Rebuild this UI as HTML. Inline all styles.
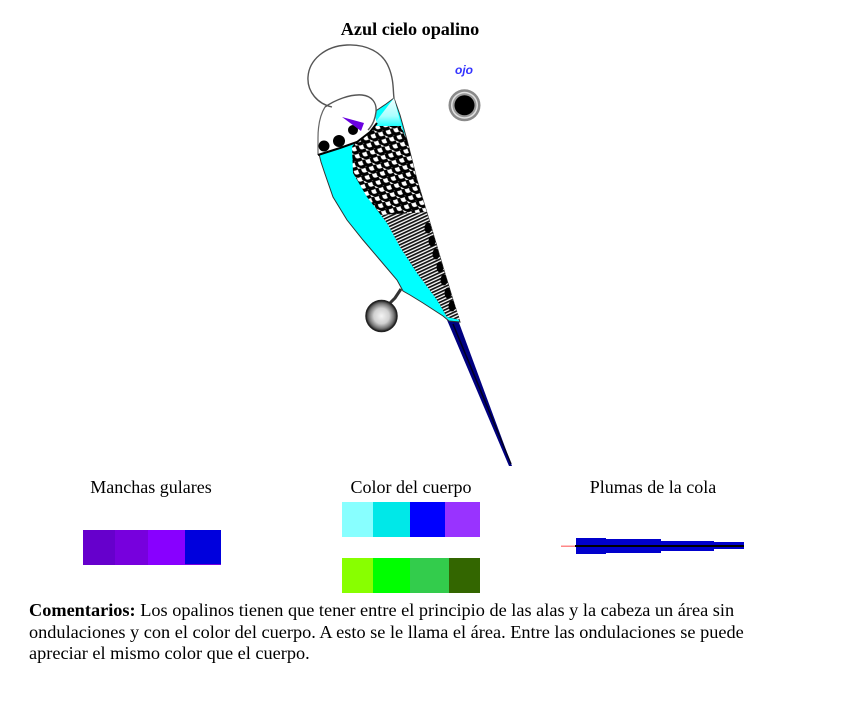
<!DOCTYPE html>
<html><head><meta charset="utf-8">
<style>
html,body{margin:0;padding:0;background:#fff;}
body{width:853px;height:711px;position:relative;overflow:hidden;font-family:"Liberation Serif",serif;font-size:18px;color:#000;}
.t{position:absolute;width:200px;text-align:center;line-height:22px;white-space:nowrap;}
.sw{position:absolute;}
</style></head><body>

<div class="t" style="left:310px;top:18px;font-weight:bold;font-size:18.2px;">Azul cielo opalino</div>
<div class="t" style="left:51px;top:476px;">Manchas gulares</div>
<div class="t" style="left:311px;top:476px;">Color del cuerpo</div>
<div class="t" style="left:553px;top:476px;">Plumas de la cola</div>

<!-- Manchas swatches -->
<div class="sw" style="left:83px;top:530px;width:32px;height:35px;background:#6600cc"></div>
<div class="sw" style="left:115px;top:530px;width:33px;height:35px;background:#7700dd"></div>
<div class="sw" style="left:148px;top:530px;width:37px;height:35px;background:#8800ff"></div>
<div class="sw" style="left:185px;top:530px;width:36px;height:34px;background:#0000dd"></div>
<div class="sw" style="left:185px;top:564px;width:36px;height:1px;background:#7700dd"></div>

<!-- Color del cuerpo swatches -->
<div class="sw" style="left:342px;top:502px;width:31px;height:35px;background:#88ffff"></div>
<div class="sw" style="left:373px;top:502px;width:37px;height:35px;background:#00e8e8"></div>
<div class="sw" style="left:410px;top:502px;width:35px;height:35px;background:#0000ff"></div>
<div class="sw" style="left:445px;top:502px;width:35px;height:35px;background:#9933ff"></div>

<div class="sw" style="left:342px;top:558px;width:31px;height:35px;background:#88ff00"></div>
<div class="sw" style="left:373px;top:558px;width:37px;height:35px;background:#00ff00"></div>
<div class="sw" style="left:410px;top:558px;width:39px;height:35px;background:#33cc4c"></div>
<div class="sw" style="left:449px;top:558px;width:31px;height:35px;background:#336600"></div>

<div style="position:absolute;left:29px;top:600px;line-height:21.7px;font-size:18.3px;white-space:nowrap;"><b>Comentarios:</b> Los opalinos tienen que tener entre el principio de las alas y la cabeza un área sin<br>ondulaciones y con el color del cuerpo. A esto se le llama el área. Entre las ondulaciones se puede<br>apreciar el mismo color que el cuerpo.</div>

<svg width="853" height="711" style="position:absolute;left:0;top:0" xmlns="http://www.w3.org/2000/svg">
<defs>
  <pattern id="sc" width="12" height="10" patternUnits="userSpaceOnUse" patternTransform="rotate(25)">
    <rect width="12" height="10" fill="#fff"/>
    <path d="M1,1 Q6,8 11,1" stroke="#000" stroke-width="3.4" fill="none"/>
    <path d="M-5,6 Q0,13 5,6 M7,6 Q12,13 17,6" stroke="#000" stroke-width="3.4" fill="none"/>
  </pattern>
  <pattern id="ht" width="3" height="3" patternUnits="userSpaceOnUse" patternTransform="rotate(-25)">
    <rect width="3" height="3" fill="#fff"/>
    <rect width="3" height="1.7" fill="#111"/>
  </pattern>
  <linearGradient id="lc" x1="0" y1="0" x2="0" y2="1">
    <stop offset="0" stop-color="#f0ffff"/>
    <stop offset="0.6" stop-color="#aaffff"/>
    <stop offset="1" stop-color="#00ffff"/>
  </linearGradient>
  <radialGradient id="ball">
    <stop offset="0" stop-color="#f4f4f4"/>
    <stop offset="0.5" stop-color="#d0d0d0"/>
    <stop offset="0.8" stop-color="#777"/>
    <stop offset="1" stop-color="#222"/>
  </radialGradient>
  <clipPath id="wc">
    <polygon points="360,136 372,126 401,126 407,140 417,180 430,223 443,267 453,300 460,320 447,317 437,300 417,273 400,247 387,223 367,197 353,173 352,147"/>
  </clipPath>
</defs>

<!-- tail -->
<polygon points="447,320 458,320 512,466 509,466" fill="#000080"/>
<line x1="453" y1="324" x2="511" y2="464" stroke="#000020" stroke-width="1.5"/>

<!-- body -->
<path d="M318,150 L321,162 L325,174 L333,197 L347,220 L363,240 L380,260 L397,280 L403,291 L410,295 L423,303 L443,316 L449,321 L460,322 L453,300 L443,267 L430,223 L417,180 L407,140 L400,115 L394,98 L386,104 Z" fill="#00ffff" stroke="#333" stroke-width="1"/>

<!-- light cyan patch -->
<polygon points="374,124 394,98 402,128 386,128" fill="url(#lc)"/>

<!-- wing -->
<polygon points="360,136 372,126 401,126 407,140 417,180 430,223 443,267 453,300 460,320 447,317 437,300 417,273 400,247 387,223 367,197 353,173 352,147" fill="url(#sc)"/>
<g clip-path="url(#wc)">
  <polygon points="378,215 428,212 443,267 453,300 460,320 447,317 437,300 417,273 400,247 387,223" fill="url(#ht)"/>
  <ellipse cx="428" cy="228" rx="3.5" ry="5.5" fill="#000"/>
  <ellipse cx="432" cy="241" rx="3.5" ry="5.5" fill="#000"/>
  <ellipse cx="436" cy="254" rx="3.5" ry="5.5" fill="#000"/>
  <ellipse cx="440" cy="267" rx="3.5" ry="5.5" fill="#000"/>
  <ellipse cx="444" cy="280" rx="3.5" ry="5.5" fill="#000"/>
  <ellipse cx="448" cy="293" rx="3.5" ry="5.5" fill="#000"/>
  <ellipse cx="452" cy="306" rx="3.5" ry="5.5" fill="#000"/>
</g>

<!-- face -->
<path d="M324,107 C335,100 350,94 362,95 C372,96 377,103 376,112 C375,118 376,121 377,123 L370,132 L357,142 L340,148 L318,155 L318,138 L319,122 Z" fill="#fff"/>

<!-- crest outline -->
<path d="M332,107 C318,104 307,92 308,77 C309,60 325,46 347,45 C366,44 383,52 389,68 C394,80 393,92 394,98" fill="none" stroke="#555" stroke-width="1.4"/>
<path d="M325,107 C335,100 350,94 362,95 C372,96 377,103 376,112 C375,120 372,126 368,130" fill="none" stroke="#555" stroke-width="1.4"/>
<path d="M325,107 C320,115 318,125 318,138 L318,155" fill="none" stroke="#666" stroke-width="1.2"/>

<!-- throat line and spots -->
<path d="M318,155 L340,148 L357,142 L370,132 L377,123" fill="none" stroke="#000" stroke-width="2"/>
<circle cx="324" cy="146" r="5.5" fill="#000"/>
<circle cx="339" cy="141" r="6" fill="#000"/>
<circle cx="353" cy="130" r="5" fill="#000"/>

<!-- cere -->
<polygon points="342,117 364,123 361,131" fill="#6a00e0"/>

<!-- leg and perch -->
<path d="M401,289 L395,298 L389,304" fill="none" stroke="#333" stroke-width="3"/>
<circle cx="381.5" cy="316" r="15.5" fill="url(#ball)" stroke="#222" stroke-width="1.5"/>

<!-- eye -->
<text x="464" y="74" text-anchor="middle" font-family="Liberation Sans, sans-serif" font-size="12" font-weight="bold" font-style="italic" fill="#3333ff">ojo</text>
<circle cx="464.5" cy="105.3" r="16" fill="#8a8a8a"/>
<circle cx="464.5" cy="105.3" r="13.5" fill="#e0e0e0"/>
<circle cx="464.5" cy="105.3" r="12" fill="#999"/>
<circle cx="464.5" cy="105.3" r="10" fill="#000"/>

<!-- tail feather swatch -->
<rect x="561" y="545.5" width="15" height="1.5" fill="#ff8888"/>
<rect x="576" y="538" width="30" height="16" fill="#0000cc"/>
<rect x="605" y="539" width="56" height="14" fill="#0000cc"/>
<rect x="660" y="541" width="54" height="10" fill="#0000cc"/>
<rect x="713" y="542" width="31" height="7" fill="#0000cc"/>
<rect x="575" y="545" width="169" height="2" fill="#000"/>
</svg>
</body></html>
